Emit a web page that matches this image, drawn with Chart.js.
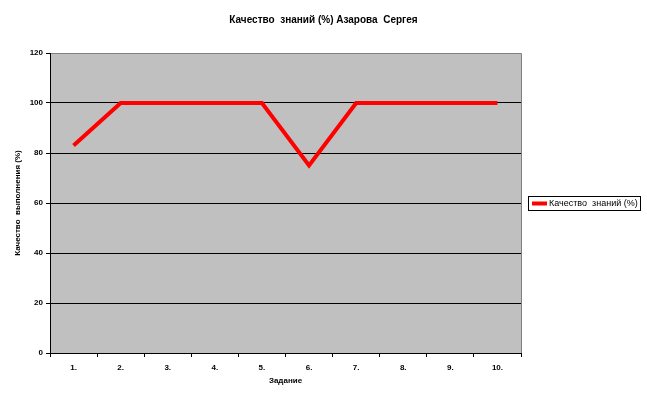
<!DOCTYPE html>
<html><head><meta charset="utf-8">
<script src="https://cdn.jsdelivr.net/npm/chart.js@4"></script>
<style>html,body{margin:0;padding:0;background:#fff}#w{width:647px;height:402px}</style>
</head><body><div id="w"><canvas id="c" width="647" height="402"></canvas></div>
<script>
const categories = ["1.","2.","3.","4.","5.","6.","7.","8.","9.","10."];
const seriesName = "Качество  знаний (%)";
const values = [83,100,100,100,100,75,100,100,100,100];
const yTicks = [0,20,40,60,80,100,120];
const titleText = "Качество  знаний (%) Азарова  Сергея";
const xTitle = "Задание";
const yTitle = "Качество  выполнения (%)";

const FONT = "'Liberation Sans', Arial, sans-serif";

const bgPlugin = {
  id:'bg',
  beforeDraw(chart){
    const {ctx, chartArea:a} = chart;
    ctx.save(); ctx.fillStyle='#C0C0C0';
    ctx.fillRect(a.left,a.top,a.right-a.left,a.bottom-a.top);
    ctx.restore();
  },
  afterDraw(chart){
    const {ctx, chartArea:a} = chart;
    ctx.save();
    ctx.strokeStyle='#808080'; ctx.lineWidth=1;
    ctx.beginPath();
    ctx.moveTo(a.left, a.top+0.5); ctx.lineTo(a.right+0.5, a.top+0.5);
    ctx.lineTo(a.right+0.5, a.bottom);
    ctx.stroke();
    ctx.strokeStyle='#000';
    ctx.beginPath();
    ctx.moveTo(a.left+0.5,a.top); ctx.lineTo(a.left+0.5,a.bottom+0.5); ctx.lineTo(a.right+1,a.bottom+0.5);
    ctx.stroke();
    // legend
    const lx=528, ly=196, lw=112, lh=14;
    ctx.fillStyle='#fff'; ctx.fillRect(lx,ly,lw,lh);
    ctx.strokeStyle='#000'; ctx.strokeRect(lx+0.5,ly+0.5,lw,lh);
    ctx.strokeStyle='#FF0000'; ctx.lineWidth=4;
    ctx.beginPath(); ctx.moveTo(lx+4, ly+7.5); ctx.lineTo(lx+19, ly+7.5); ctx.stroke();
    ctx.fillStyle='#000'; ctx.font="9px "+FONT; ctx.textBaseline='middle'; ctx.textAlign='left';
    ctx.fillText(seriesName, lx+21, ly+8);
    ctx.restore();
  }
};

new Chart(document.getElementById('c'), {
  type:'line',
  data:{labels:categories, datasets:[{label:seriesName, data:values, borderColor:'#FF0000', backgroundColor:'#FF0000', borderWidth:4, pointRadius:0, tension:0, fill:false}]},
  options:{
    responsive:false, animation:false, devicePixelRatio:1,
    layout:{padding:0},
    plugins:{
      legend:{display:false}, tooltip:{enabled:false},
      title:{display:true, text:titleText, color:'#000', font:{family:FONT, size:10, weight:'bold'}, padding:{top:14,bottom:27}}
    },
    scales:{
      x:{
        offset:true,
        grid:{offset:true, drawOnChartArea:false, color:'#000', tickLength:4, tickColor:'#000'},
        border:{display:false},
        ticks:{color:'#000', font:{family:FONT,size:8,weight:'bold'}, padding:6, maxRotation:0},
        title:{display:true, text:xTitle, color:'#000', font:{family:FONT,size:8,weight:'bold'}, padding:{top:5,bottom:16}},
        afterFit(s){ s.height = 49; }
      },
      y:{
        min:0, max:120,
        afterBuildTicks(s){ s.ticks = yTicks.map(v=>({value:v})); },
        grid:{color:(c)=> c.tick && c.tick.value===120 ? 'rgba(0,0,0,0)' : '#000', tickColor:'#000', tickLength:4, lineWidth:1},
        border:{display:false},
        ticks:{color:'#000', font:{family:FONT,size:8,weight:'bold'}, padding:3},
        title:{display:true, text:yTitle, color:'#000', font:{family:FONT,size:8,weight:'bold'}, padding:{top:13,bottom:0}},
        afterFit(s){ s.width = 50; }
      },
      yRight:{
        position:'right', min:0, max:120,
        grid:{display:false}, border:{display:false},
        ticks:{display:false},
        afterFit(s){ s.width = 126; }
      }
    }
  },
  plugins:[bgPlugin]
});
</script></body></html>
